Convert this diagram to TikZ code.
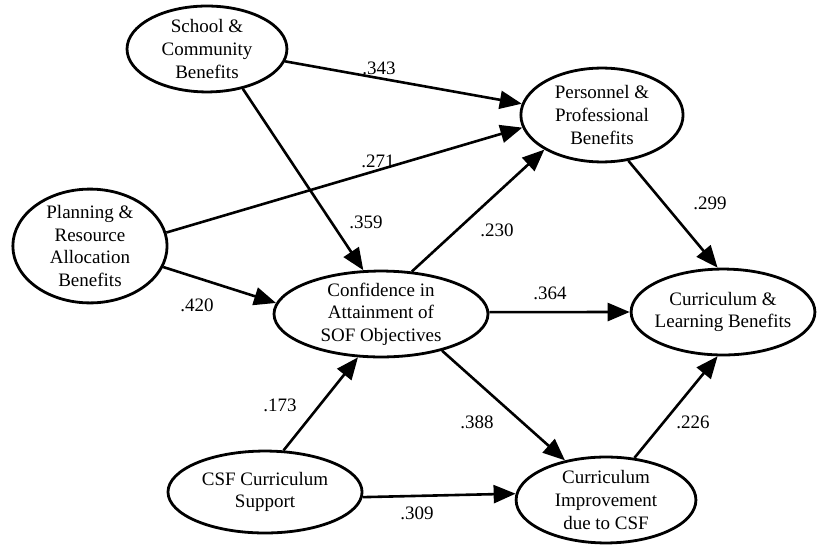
\documentclass[tikz,border=0pt]{standalone}
\usepackage{fontspec}
\setmainfont{Liberation Serif}
\usetikzlibrary{shapes.geometric,arrows.meta}

\tikzset{
  factor/.style={draw, ellipse, line width=1.4pt, inner xsep=-2pt, inner ysep=-1pt,
    align=center, font=\fontsize{9.5}{11.3}\selectfont},
  link/.style={-{Triangle[length=11pt,width=9pt]}, line width=1.3pt},
  coef/.style={font=\fontsize{9.5}{11}\selectfont, inner sep=1pt}
}

\begin{document}
\begin{tikzpicture}
    % Canvas
    \fill[white] (0,0) rectangle (14.374,9.577);

    % Factors
    \node[factor, minimum width=2.81cm, minimum height=1.51cm] (school) at (3.637,8.716) {School \&\\Community\\Benefits};
    \node[factor, minimum width=2.85cm, minimum height=1.65cm] (personnel) at (10.578,7.556) {Personnel \&\\Professional\\Benefits};
    \node[factor, minimum width=2.71cm, minimum height=2.00cm] (planning) at (1.581,5.254) {Planning \&\\Resource\\Allocation\\Benefits};
    \node[factor, minimum width=3.76cm, minimum height=1.51cm] (confidence) at (6.695,4.059) {Confidence in\\Attainment of\\SOF Objectives};
    \node[factor, minimum width=3.23cm, minimum height=1.51cm] (learning) at (12.705,4.094) {Curriculum \&\\Learning Benefits};
    \node[factor, minimum width=3.41cm, minimum height=1.44cm] (csf) at (4.657,0.931) {CSF Curriculum\\Support};
    \node[factor, minimum width=3.16cm, minimum height=1.51cm] (improvement) at (10.649,0.791) {Curriculum\\Improvement\\due to CSF};

    % Paths
    \draw[link] (school.-9) -- (personnel.172);
    \draw[link] (school.-48) -- (confidence.112);
    \draw[link] (planning.10) -- (personnel.189);
    \draw[link] (planning.-16) -- (confidence.174);
    \draw[link] (confidence.54) -- (personnel.211);
    \draw[link] (confidence.1) -- (learning.180);
    \draw[link] (personnel.-60) -- (learning.97);
    \draw[link] (confidence.-31) -- (improvement.136);
    \draw[link] (csf.66) -- (confidence.242);
    \draw[link] (csf.-3) -- (improvement.176);
    \draw[link] (improvement.56) -- (learning.263);

    % Path coefficients
    \node[coef] (c343) at (6.660,8.382) {.343};
    \node[coef] (c271) at (6.642,6.748) {.271};
    \node[coef] (c359) at (6.431,5.676) {.359};
    \node[coef] (c230) at (8.733,5.535) {.230};
    \node[coef] (c299) at (12.476,6.010) {.299};
    \node[coef] (c420) at (3.462,4.217) {.420};
    \node[coef] (c364) at (9.665,4.428) {.364};
    \node[coef] (c173) at (4.920,2.460) {.173};
    \node[coef] (c388) at (8.382,2.161) {.388};
    \node[coef] (c226) at (12.177,2.161) {.226};
    \node[coef] (c309) at (7.328,0.562) {.309};
\end{tikzpicture}
\end{document}
